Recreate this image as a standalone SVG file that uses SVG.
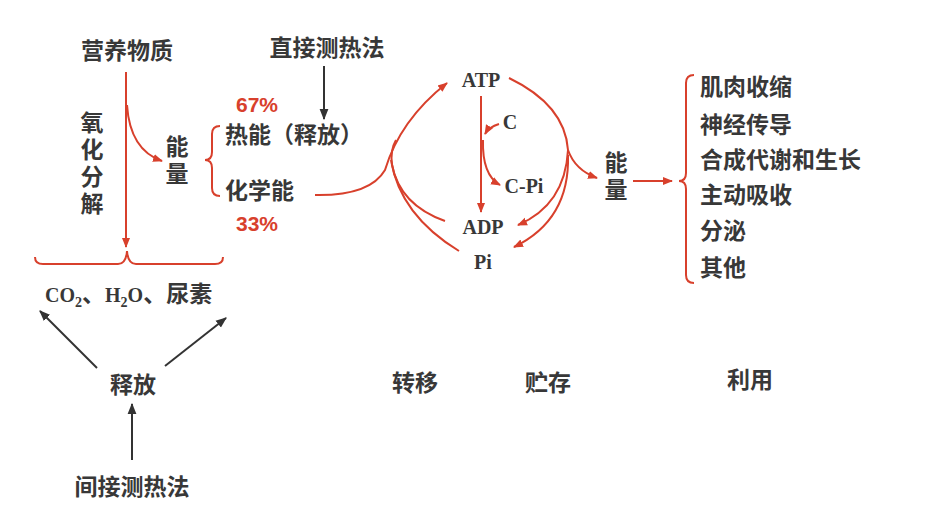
<svg xmlns="http://www.w3.org/2000/svg" width="928" height="520" viewBox="0 0 928 520">
<defs>
<marker id="ar" viewBox="0 0 10 10" refX="9" refY="5" markerWidth="10" markerHeight="10" markerUnits="userSpaceOnUse" orient="auto"><path d="M0,1 L10,5 L0,9 z" fill="#d8402c"/></marker>
<marker id="ak" viewBox="0 0 10 10" refX="9" refY="5" markerWidth="11" markerHeight="11" markerUnits="userSpaceOnUse" orient="auto"><path d="M0,1 L10,5 L0,9 z" fill="#333"/></marker>
<style>
.t{font-family:"Noto Sans CJK SC","Noto Sans",sans-serif;font-weight:700;font-size:23px;fill:#383838}
.v{writing-mode:vertical-rl;letter-spacing:4px}
.r{font-family:"Liberation Sans","Noto Sans",sans-serif;font-weight:700;font-size:21px;fill:#d8402c}
.e{font-family:"Liberation Serif","Noto Sans CJK SC",serif;font-weight:700;font-size:20px;fill:#383838}
.rl{fill:none;stroke:#d8402c;stroke-width:2}
.kl{fill:none;stroke:#333;stroke-width:2}
</style>
</defs>
<rect width="928" height="520" fill="#fff"/>
<g id="connectors">
<path class="rl" d="M126,72 L126,247" marker-end="url(#ar)"/>
<path class="rl" d="M127,105 Q130,150 162,161" marker-end="url(#ar)"/>
<path class="rl" d="M35,257 Q35,264 43,264 L118,264 Q126,264 127,251 Q128,264 136,264 L215,264 Q223,264 223,257"/>
<path class="rl" d="M220,126 Q212,126 212,134 L212,152 Q212,160 205,160 Q212,160 212,168 L212,188 Q212,196 220,196"/>
<path class="kl" d="M324,66 L324,119" marker-end="url(#ak)"/>
<path class="rl" d="M315,195 Q370,196 385,170 Q400,120 447,83" marker-end="url(#ar)"/>
<path class="rl" d="M445,221 Q400,205 392,165 Q390,150 396,140"/>
<path class="rl" d="M459,251 Q400,215 391,160"/>
<path class="rl" d="M481,96 L481,212" marker-end="url(#ar)"/>
<path class="rl" d="M499,124 Q489,127 485,134" marker-end="url(#ar)"/>
<path class="rl" d="M483,140 Q482,175 500,185" marker-end="url(#ar)"/>
<path class="rl" d="M509,78 Q565,105 568,150 Q575,170 597,178" marker-end="url(#ar)"/>
<path class="rl" d="M568,150 Q565,205 518,225" marker-end="url(#ar)"/>
<path class="rl" d="M568,155 Q570,220 514,247" marker-end="url(#ar)"/>
<path class="rl" d="M633,181 L672,181" marker-end="url(#ar)"/>
<path class="rl" d="M694,75 Q686,75 686,83 L686,173 Q686,181 679,181 Q686,181 686,189 L686,275 Q686,283 694,283"/>
<path class="kl" d="M97,368 L40,311" marker-end="url(#ak)"/>
<path class="kl" d="M165,366 L226,318" marker-end="url(#ak)"/>
<path class="kl" d="M132,460 L132,404" marker-end="url(#ak)"/>
</g>
<g id="n-nutrient"><text class="t" x="127" y="59" text-anchor="middle">营养物质</text></g>
<g id="n-oxid"><text class="t v" x="92" y="111">氧化分解</text></g>
<g id="n-energy1"><text class="t v" x="177" y="135">能量</text></g>
<g id="n-direct"><text class="t" x="327" y="56" text-anchor="middle">直接测热法</text></g>
<g id="n-heat"><text class="r" x="236" y="112">67%</text><text class="t" x="225" y="143">热能（释放）</text></g>
<g id="n-chem"><text class="t" x="225" y="199">化学能</text><text class="r" x="236" y="231">33%</text></g>
<g id="n-products"><text class="e" x="45" y="302" font-size="22">CO<tspan font-size="14" dy="5">2</tspan><tspan dy="-5" font-family="Noto Sans CJK SC" font-size="23">、</tspan>H<tspan font-size="14" dy="5">2</tspan><tspan dy="-5">O</tspan><tspan font-family="Noto Sans CJK SC" font-size="23">、尿素</tspan></text></g>
<g id="n-release"><text class="t" x="133" y="393" text-anchor="middle">释放</text></g>
<g id="n-indirect"><text class="t" x="132" y="495" text-anchor="middle">间接测热法</text></g>
<g id="n-atp"><text class="e" x="481" y="87" text-anchor="middle">ATP</text></g>
<g id="n-c"><text class="e" x="510" y="129" text-anchor="middle">C</text></g>
<g id="n-cpi"><text class="e" x="524" y="193" text-anchor="middle">C-Pi</text></g>
<g id="n-adp"><text class="e" x="483" y="234" text-anchor="middle">ADP</text></g>
<g id="n-pi"><text class="e" x="483" y="269" text-anchor="middle">Pi</text></g>
<g id="n-energy2"><text class="t v" x="616" y="151">能量</text></g>
<g id="n-uses">
<text class="t" x="700" y="95">肌肉收缩</text>
<text class="t" x="700" y="133">神经传导</text>
<text class="t" x="700" y="168">合成代谢和生长</text>
<text class="t" x="700" y="203">主动吸收</text>
<text class="t" x="700" y="239">分泌</text>
<text class="t" x="700" y="276">其他</text>
</g>
<g id="n-labels">
<text class="t" x="415" y="391" text-anchor="middle">转移</text>
<text class="t" x="548" y="391" text-anchor="middle">贮存</text>
<text class="t" x="750" y="388" text-anchor="middle">利用</text>
</g>
</svg>
